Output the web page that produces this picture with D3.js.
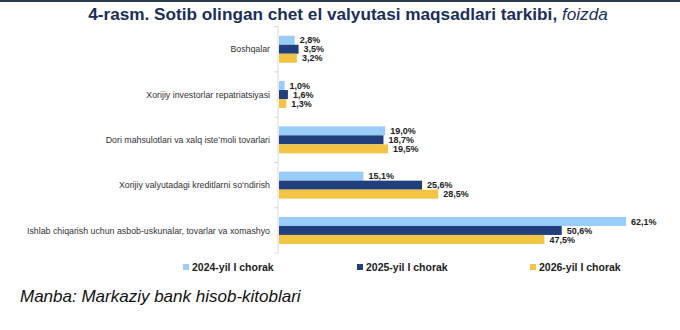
<!DOCTYPE html>
<html><head><meta charset="utf-8">
<script src="https://cdn.jsdelivr.net/npm/d3@7"></script>
<style>body{margin:0;background:#fff}svg{display:block;font-family:Arial,"Liberation Sans",sans-serif}</style>
</head><body><svg id="c" width="680" height="330"></svg>
<script>
const categories = ["Boshqalar","Xorijiy investorlar repatriatsiyasi","Dori mahsulotlari va xalq iste’moli tovarlari","Xorijiy valyutadagi kreditlarni so‘ndirish","Ishlab chiqarish uchun asbob-uskunalar, tovarlar va xomashyo"];
const seriesNames = ["2024-yil I chorak","2025-yil I chorak","2026-yil I chorak"];
const s2024 = [2.8,1.0,19.0,15.1,62.1];
const s2025 = [3.5,1.6,18.7,25.6,50.6];
const s2026 = [3.2,1.3,19.5,28.5,47.5];
const colors = ["#99ccf8","#203f7c","#f3c444"];
const seriesVals = [s2024,s2025,s2026];

const svg = d3.select("#c");
svg.append("rect").attr("x",0).attr("y",0).attr("width",680).attr("height",2).attr("fill","#2d3a4e");

const title = svg.append("text").attr("x",348).attr("y",20).attr("text-anchor","middle")
  .attr("fill","#1b2f5a").style("font-size","17.2px").style("font-weight","bold");
title.append("tspan").text("4-rasm. Sotib olingan chet el valyutasi maqsadlari tarkibi, ");
title.append("tspan").style("font-weight","normal").style("font-style","italic").text("foizda");

const x0 = 278;
const x = d3.scaleLinear().domain([0,62.1]).range([x0, x0+347]);
const y = d3.scaleBand().domain(categories).range([26.6,253.1]).padding(0);
const yi = d3.scaleBand().domain(seriesNames).range([9.15, 36.15]).padding(0);

// axis
svg.append("line").attr("x1",x0).attr("x2",x0).attr("y1",y.range()[0]).attr("y2",y.range()[1]).attr("stroke","#d9d9d9");
const bounds = categories.map(c=>y(c)).concat([y.range()[1]]);
svg.selectAll(".tk").data(bounds).join("line").attr("x1",x0-4).attr("x2",x0).attr("y1",d=>d).attr("y2",d=>d).attr("stroke","#d9d9d9");

svg.selectAll(".cat").data(categories).join("text")
  .attr("x",270).attr("y",c=>y(c)+y.bandwidth()/2).attr("dy","0.35em")
  .attr("text-anchor","end").attr("fill","#333").style("font-size","8.8px").text(c=>c);

const fmt = v => v.toFixed(1).replace(".",",")+"%";
seriesNames.forEach((s,si)=>{
  const vals = seriesVals[si];
  const g = svg.append("g");
  g.selectAll("rect").data(categories).join("rect")
    .attr("x",x0+1).attr("y",(c)=>y(c)+yi(s)).attr("height",yi.bandwidth())
    .attr("width",(c,i)=>x(vals[i])-x0).attr("fill",colors[si]);
  g.selectAll("text").data(categories).join("text")
    .attr("x",(c,i)=>x(vals[i])+6).attr("y",c=>y(c)+yi(s)+yi.bandwidth()/2).attr("dy","0.36em")
    .attr("fill","#222").style("font-size","9px").style("font-weight","bold")
    .text((c,i)=>fmt(vals[i]));
});

// legend
const legX = [183,357,530];
seriesNames.forEach((s,i)=>{
  svg.append("rect").attr("x",legX[i]).attr("y",264).attr("width",6).attr("height",6).attr("fill",colors[i]);
  svg.append("text").attr("x",legX[i]+9).attr("y",267).attr("dy","0.35em").attr("fill","#222")
    .style("font-size","10.5px").style("font-weight","bold").text(s);
});

svg.append("text").attr("x",20).attr("y",302).attr("fill","#111")
  .style("font-size","17px").style("font-style","italic").text("Manba: Markaziy bank hisob-kitoblari");
</script></body></html>
